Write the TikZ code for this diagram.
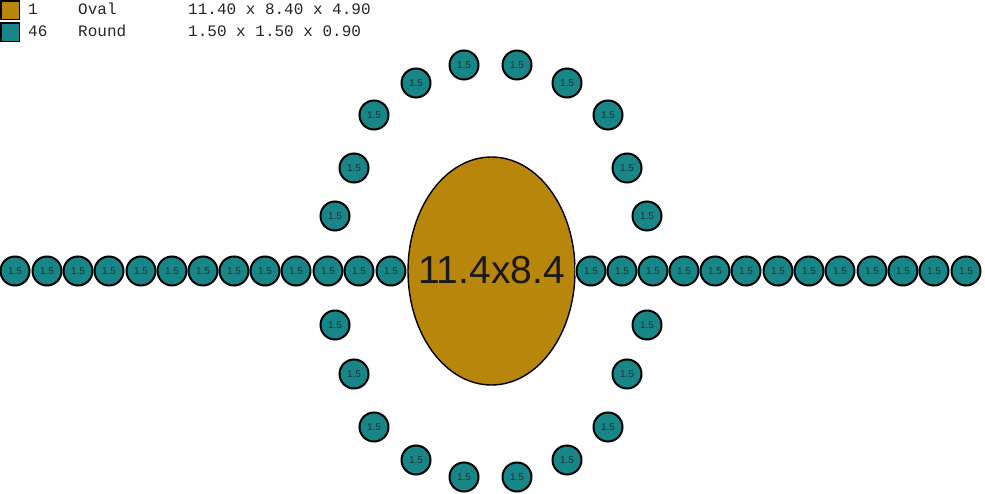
\documentclass[tikz,border=0pt]{standalone}
\usepackage{fontspec}
\setmainfont{Liberation Sans}
\newfontfamily\legmono{Liberation Mono}
\definecolor{ovalgold}{RGB}{184,134,11}
\definecolor{roundteal}{RGB}{24,134,134}
\definecolor{lbltext}{RGB}{30,50,55}
\tikzset{
  rnd/.style={circle, draw=black, line width=2pt, fill=roundteal, minimum size=29pt, inner sep=0pt,
    font=\fontsize{10}{10}\selectfont, text=lbltext},
  legtxt/.style={anchor=base west, inner sep=0pt, font=\legmono\fontsize{16}{16}\selectfont, text=black!85},
  swatch/.style={draw=black, line width=1.2pt}
}
\begin{document}
\begin{tikzpicture}[x=1pt,y=-1pt]
\useasboundingbox[fill=white] (0,0) rectangle (985,494);
% legend
\draw[swatch, fill=ovalgold] (1,1) rectangle (19.5,19.5);
\draw[swatch, fill=roundteal] (1,23) rectangle (19.5,41.5);
\node[legtxt] (l1n) at (28,15) {1};
\node[legtxt] (l1t) at (78,15) {Oval};
\node[legtxt] (l1d) at (188,15) {11.40 x 8.40 x 4.90};
\node[legtxt] (l2n) at (28,37) {46};
\node[legtxt] (l2t) at (78,37) {Round};
\node[legtxt] (l2d) at (188,37) {1.50 x 1.50 x 0.90};
% oval
\draw[fill=ovalgold, draw=black, line width=1.4pt] (491.5,271) ellipse [x radius=83.5, y radius=114];
\node[inner sep=0pt, font=\fontsize{39}{39}\selectfont, text=black!90] (oval) at (491.5,270) {11.4x8.4};
\fill[yellow!85!white] (575,264) -- (579,272) -- (575,276) -- cycle;
% row left
\foreach \x [count=\i] in {15,47,78,109,141,172,203,234,265,296,328,359,391}
  \node[rnd] (L\i) at (\x,271) {1.5};
% row right
\foreach \x [count=\i] in {591,622,653,684,715,746,778,809,840,872,903,934,966}
  \node[rnd] (R\i) at (\x,271) {1.5};
% ring
\foreach \x/\y [count=\i] in {464/65,517/65,416/83,567/83,374/115,608/115,354/168,627/168,335/216,647/216,
  335/325,647/325,354/374,627/374,374/427,608/427,416/460,567/460,464/477,517/477}
  \node[rnd] (C\i) at (\x,\y) {1.5};
\end{tikzpicture}
\end{document}
